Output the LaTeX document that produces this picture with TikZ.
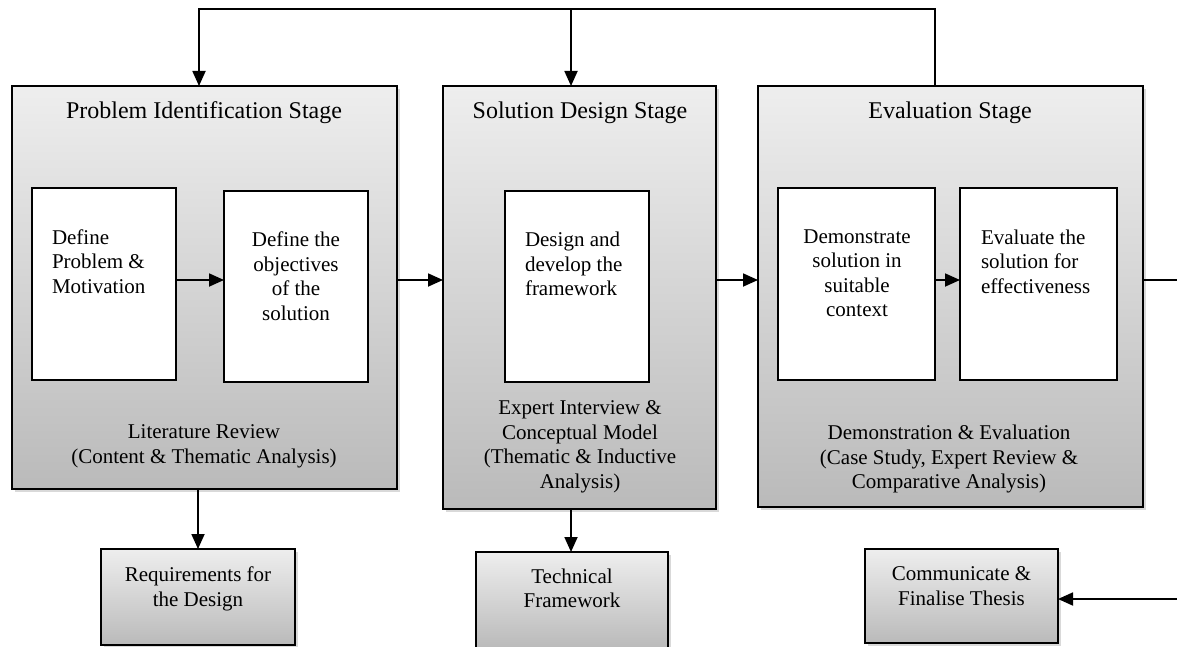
\documentclass[tikz,border=0pt]{standalone}
\usepackage{fontspec}
\setmainfont{Liberation Serif}
\usetikzlibrary{arrows.meta,shadows}
\definecolor{shadetop}{RGB}{238,238,238}
\definecolor{shadebot}{RGB}{186,186,186}
\begin{document}
\begin{tikzpicture}[x=1pt, y=-1pt, line join=miter, >={Triangle[length=15pt,width=13pt]},
	every node/.style={inner sep=0pt, outer sep=0pt},
	txt/.style={font=\fontsize{21}{24.5}\selectfont, align=center, anchor=north},
	ttl/.style={font=\fontsize{24}{28}\selectfont, anchor=base},
	stage/.style={draw, line width=2pt, top color=shadetop, bottom color=shadebot,
		drop shadow={shadow xshift=3pt, shadow yshift=-3pt, opacity=0.3}},
	task/.style={draw, line width=1.4pt, fill=white, minimum height=192pt},
	conn/.style={line width=1.8pt}]
	\useasboundingbox (0,0) rectangle (1177,647);
	\coordinate (axis) at (0,280);
	% stages
	\node[stage, minimum width=385pt, minimum height=403pt] (pis) at (204.5,287.5) {};
	\node[stage, minimum width=273pt, minimum height=423pt] (sds) at (579.5,297.5) {};
	\node[stage, minimum width=385pt, minimum height=421pt] (evs) at (950.5,296.5) {};
	\node[ttl] (pist) at (204,119) {Problem Identification Stage};
	\node[ttl] (sdst) at (580,119) {Solution Design Stage};
	\node[ttl] (evst) at (950,119) {Evaluation Stage};
	% tasks
	\node[task, minimum width=144pt] (dpm) at (104,284) {};
	\node[task, minimum width=144pt, minimum height=191pt] (obj) at (296,286.5) {};
	\node[task, minimum width=144pt, minimum height=191pt] (dev) at (577,286.5) {};
	\node[task, minimum width=157pt] (dem) at (856.5,284) {};
	\node[task, minimum width=157pt] (eva) at (1038.5,284) {};
	\node[txt, align=left, anchor=north west] (dpmt) at (52,229.5) {Define\\Problem \&\\Motivation};
	\node[txt] (objt) at (296,232) {Define the\\objectives\\of the\\solution};
	\node[txt, align=left, anchor=north west] (devt) at (525,232) {Design and\\develop the\\framework};
	\node[txt] (demt) at (857,229.5) {Demonstrate\\solution in\\suitable\\context};
	\node[txt, align=left, anchor=north west] (evat) at (981,229.5) {Evaluate the\\solution for\\effectiveness};
	% methods
	\node[txt] (pism) at (204,425) {Literature Review\\(Content \& Thematic Analysis)};
	\node[txt] (sdsm) at (580,401) {Expert Interview \&\\Conceptual Model\\(Thematic \& Inductive\\Analysis)};
	\node[txt] (evsm) at (949,425) {Demonstration \& Evaluation\\(Case Study, Expert Review \&\\Comparative Analysis)};
	% outputs
	\node[stage, minimum width=194pt, minimum height=96pt] (req) at (198,597) {};
	\node[stage, minimum width=192pt, minimum height=96pt] (tef) at (572,600) {};
	\node[stage, minimum width=193pt, minimum height=94pt] (cft) at (961.5,596) {};
	\node[txt] (reqt) at (198,567) {Requirements for\\the Design};
	\node[txt] (teft) at (572,568.5) {Technical\\Framework};
	\node[txt] (cftt) at (961.5,567) {Communicate \&\\Finalise Thesis};
	% connectors
	\foreach \a/\b in {dpm/obj, pis/sds, sds/evs, dem/eva}
		\draw[conn,->] (\a.east |- axis) -- (\b.west |- axis);
	\coordinate (fbl) at (199,9);
	\coordinate (fbm) at (571,9);
	\coordinate (fbr) at (935,9);
	\coordinate (outr) at (1185,280);
	\coordinate (inr) at (1185,599);
	\draw[conn,->] (fbr |- evs.north) -- (fbr) -- (fbl) -- (fbl |- pis.north);
	\draw[conn,->] (fbm) -- (fbm |- sds.north);
	\draw[conn,->] (req.north |- pis.south) -- (req.north);
	\draw[conn,->] (fbm |- sds.south) -- (tef.north -| fbm);
	\draw[conn] (evs.east |- outr) -- (outr);
	\draw[conn,->] (inr) -- (cft.east |- inr);
\end{tikzpicture}
\end{document}
